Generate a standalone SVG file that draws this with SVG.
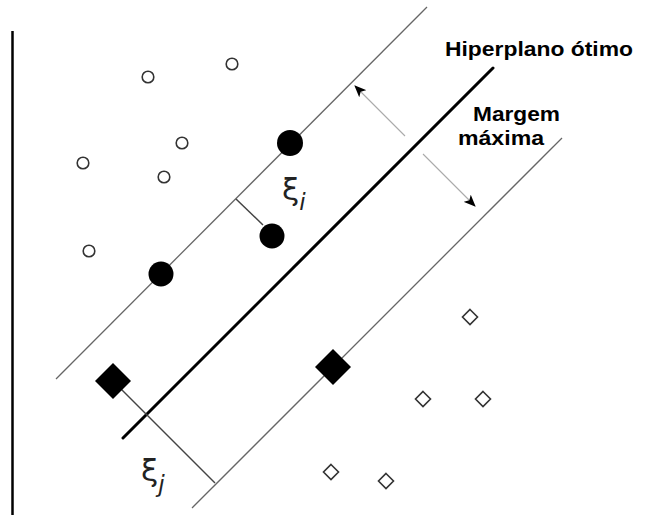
<svg xmlns="http://www.w3.org/2000/svg" width="657" height="515" viewBox="0 0 657 515">
<style>
.axis{stroke:#000;stroke-width:2.5;fill:none}
.margin{stroke:#666;stroke-width:1.3;fill:none}
.hyper{stroke:#000;stroke-width:3;fill:none;stroke-linecap:round}
.slack{stroke:#444;stroke-width:1.5;fill:none}
.arrow{stroke:#aaa;stroke-width:1.1;fill:none}
.open{fill:#fff;stroke:#333;stroke-width:1.6}
.solid{fill:#000;stroke:none}
.lbl{font-family:"Liberation Sans",Arial,sans-serif;font-weight:bold;font-size:21px;fill:#000}
.greek{font-family:"DejaVu Sans",sans-serif;font-size:31px;fill:#222}
.sub{font-family:"DejaVu Sans",sans-serif;font-style:italic;font-size:23px;fill:#222}
</style>
<defs>
<marker id="ah" viewBox="0 0 12 10" refX="11" refY="5" markerWidth="12" markerHeight="10" markerUnits="userSpaceOnUse" orient="auto">
<path d="M0,0 L12,5 L0,10 L3,5 Z" fill="#000"/>
</marker>
</defs>
<rect width="657" height="515" fill="#fff"/>
<g id="connectors">
<line class="axis" x1="12.5" y1="31" x2="12.5" y2="515"/>
<line class="margin" x1="56" y1="379" x2="427" y2="7"/>
<line class="hyper" x1="123" y1="438" x2="493" y2="68"/>
<line class="margin" x1="192" y1="508" x2="562" y2="138"/>
<line class="slack" x1="236" y1="199" x2="263" y2="225"/>
<line class="slack" x1="113" y1="381" x2="215" y2="483"/>
<line class="arrow" x1="405" y1="136" x2="355" y2="86" marker-end="url(#ah)"/>
<line class="arrow" x1="423" y1="154" x2="475" y2="206" marker-end="url(#ah)"/>
</g>
<g id="c1"><circle class="open" cx="232" cy="64" r="5.8"/></g>
<g id="c2"><circle class="open" cx="148" cy="77" r="5.8"/></g>
<g id="c3"><circle class="open" cx="182" cy="143" r="5.8"/></g>
<g id="c4"><circle class="open" cx="83" cy="163" r="5.8"/></g>
<g id="c5"><circle class="open" cx="164" cy="177" r="5.8"/></g>
<g id="c6"><circle class="open" cx="89" cy="251" r="5.8"/></g>
<g id="s1"><circle class="solid" cx="290" cy="143" r="13"/></g>
<g id="s2"><circle class="solid" cx="272" cy="236" r="12.5"/></g>
<g id="s3"><circle class="solid" cx="161" cy="274" r="12.5"/></g>
<g id="d1"><polygon class="solid" points="113,363 131,381 113,399 95,381"/></g>
<g id="d2"><polygon class="solid" points="333,349 351,367 333,385 315,367"/></g>
<g id="o1"><polygon class="open" points="470,309.5 477.5,317 470,324.5 462.5,317"/></g>
<g id="o2"><polygon class="open" points="423,391.5 430.5,399 423,406.5 415.5,399"/></g>
<g id="o3"><polygon class="open" points="483,391.5 490.5,399 483,406.5 475.5,399"/></g>
<g id="o4"><polygon class="open" points="331,464.5 338.5,472 331,479.5 323.5,472"/></g>
<g id="o5"><polygon class="open" points="386,473.5 393.5,481 386,488.5 378.5,481"/></g>
<g id="label-hiperplano"><text class="lbl" x="445" y="56" textLength="188" lengthAdjust="spacingAndGlyphs">Hiperplano ótimo</text></g>
<g id="label-margem"><text class="lbl" x="473" y="121" textLength="87" lengthAdjust="spacingAndGlyphs">Margem</text><text class="lbl" x="458" y="145" textLength="86" lengthAdjust="spacingAndGlyphs">máxima</text></g>
<g id="label-xi-i"><text class="greek" x="282" y="200">ξ<tspan class="sub" dy="10">i</tspan></text></g>
<g id="label-xi-j"><text class="greek" x="141" y="481">ξ<tspan class="sub" dy="11">j</tspan></text></g>
</svg>
